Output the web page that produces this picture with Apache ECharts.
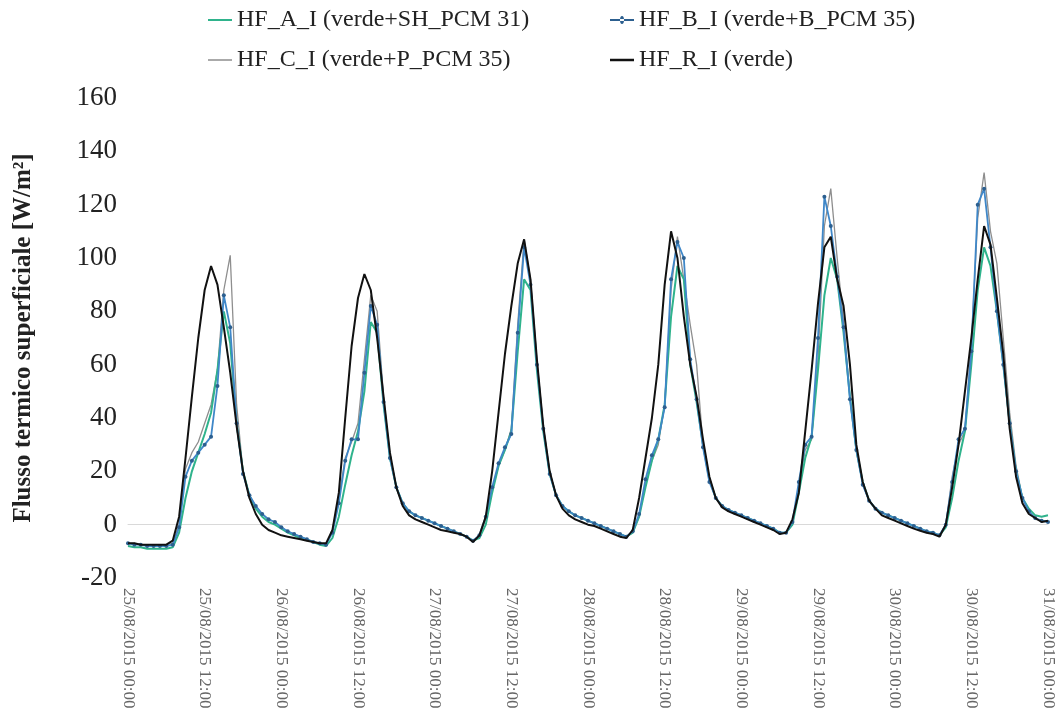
<!DOCTYPE html>
<html>
<head>
<meta charset="utf-8">
<script src="https://cdn.jsdelivr.net/npm/echarts@6/dist/echarts.min.js"></script>
<style>html,body{margin:0;padding:0;background:#fff;}#chart{width:1061px;height:722px;}</style>
</head>
<body>
<div id="chart"></div>
<script>
// hourly samples, 25/08/2015 00:00 -> 31/08/2015 00:00 (145 points)
const seriesNames = ['HF_A_I (verde+SH_PCM 31)', 'HF_B_I (verde+B_PCM 35)', 'HF_C_I (verde+P_PCM 35)', 'HF_R_I (verde)'];
const xTickLabels = ['25/08/2015 00:00','25/08/2015 12:00','26/08/2015 00:00','26/08/2015 12:00','27/08/2015 00:00','27/08/2015 12:00','28/08/2015 00:00','28/08/2015 12:00','29/08/2015 00:00','29/08/2015 12:00','30/08/2015 00:00','30/08/2015 12:00','31/08/2015 00:00'];
const yTicks = [-20, 0, 20, 40, 60, 80, 100, 120, 140, 160];

const hfA = [
  -8,-8.5,-8.5,-9,-9,-9,-9,-8.5,-3,10,20,27,34,42,58,80,68,38,20,11,6,3,1,0,
  -1.5,-3,-4,-5,-5.5,-6.5,-7.5,-8,-5,3,15,26,35,50,76,72,45,25,14,8,5,3.5,2.5,1.5,
  0.5,-0.5,-1.5,-2.5,-3.5,-4.5,-6,-5,0,12,22,28,35,65,92,88,58,35,19,11,7,5,3.5,2.5,
  1.5,0.5,-0.5,-1.5,-2.5,-3.5,-4.5,-3,3,14,24,32,45,78,97,92,60,46,30,17,10,7,5.5,4.5,
  3.5,2.5,1.5,0.5,-0.5,-1.5,-3,-3,0,12,25,33,58,86,100,92,72,48,28,16,9,6,4.5,3.5,
  2.5,1.5,0.5,-0.5,-1.5,-2.5,-3,-4,-1,10,24,35,60,88,104,97,80,60,38,20,10,6,3.5,3,3.5
];
const hfB = [
  -7,-7.5,-7.5,-8,-8,-8,-8,-7.5,-1,18,24,27,30,33,52,86,74,38,19,11,7,4,2,1,
  -1,-2.5,-3.5,-4.5,-5.5,-6.5,-7,-7.5,-3,8,24,32,32,57,82,75,46,25,14,8,5,3.5,2.5,1.5,
  0.5,-0.5,-1.5,-2.5,-3.5,-4.5,-6,-4,3,14,23,29,34,72,104,90,60,36,19,11,7,5,3.5,2.5,
  1.5,0.5,-0.5,-1.5,-2.5,-3.5,-4.5,-2.5,4,17,26,32,44,92,106,100,62,47,29,16,10,7,5.5,4.5,
  3.5,2.5,1.5,0.5,-0.5,-1.5,-3,-3,1,16,30,33,70,123,112,93,74,47,28,15,9,6,4.5,3.5,
  2.5,1.5,0.5,-0.5,-1.5,-2.5,-3,-4,0,16,32,36,65,120,126,104,80,60,38,20,10,5,2.5,1.5,1
];
const hfC = [
  -7,-7,-7.5,-7.5,-7.5,-7.5,-7.5,-7,0,21,27,31,38,45,58,88,101,45,20,11,7,4,2,1,
  -1,-2.5,-3.5,-4.5,-5.5,-6.5,-7,-7.5,-2,10,25,31,38,62,86,80,48,26,14,8,5,3.5,2.5,1.5,
  0.5,-0.5,-1.5,-2.5,-3.5,-4.5,-6,-4,2,13,22,28,36,75,107,92,62,37,20,11,7,5,3.5,2.5,
  1.5,0.5,-0.5,-1.5,-2.5,-3.5,-4.5,-3,3,15,24,30,45,88,108,92,75,60,30,17,10,7,5.5,4.5,
  3.5,2.5,1.5,0.5,-0.5,-1.5,-3,-3,0,14,28,32,62,112,126,100,76,48,28,15,9,6,4.5,3.5,
  2.5,1.5,0.5,-0.5,-1.5,-2.5,-3,-4,0,18,30,35,68,115,132,110,98,70,42,22,10,5,2,1.5,1.5
];
const hfR = [
  -7,-7,-7.5,-7.5,-7.5,-7.5,-7.5,-6,3,25,48,70,88,97,90,74,57,37,20,10,4,0,-2,-3,
  -4,-4.5,-5,-5.5,-6,-6.5,-7,-7,-2,12,40,67,85,94,88,70,48,27,14,7,3.5,2,1,0,
  -1,-2,-2.5,-3,-3.5,-4.5,-6.5,-4,3,20,42,64,82,98,107,92,62,37,20,11,6,3.5,2,1,
  0,-0.5,-1.5,-2.5,-3.5,-4.5,-5,-2,10,25,40,60,90,110,100,78,60,48,32,18,10,6.5,5,4,
  3,2,1,0,-1,-2,-3.5,-3,2,12,35,58,83,104,108,92,82,60,30,16,9,6,3.5,2.5,
  1.5,0.5,-0.5,-1.5,-2.3,-3,-3.5,-4.5,0,14,30,50,70,92,112,105,85,64,36,18,8,4,2.5,1,1.5
];

const colors = ['#2fb38c', '#3f87c8', '#8e8e8e', '#111111'];
const toPairs = arr => arr.map((v, i) => [i, v]);

const font = 'Liberation Serif';
const legendPos = [[203, 3], [605, 3], [203, 43], [605, 43]];
const markerIcon = 'path://M0,9 L48,9 L48,11 L0,11 Z M20,10 a4,4 0 1,0 8,0 a4,4 0 1,0 -8,0 Z';
const legendIcons = ['rect', markerIcon, 'rect', 'rect'];
const legendIconH = [2, 8, 1.5, 2.5];

const chart = echarts.init(document.getElementById('chart'), null, {renderer: 'canvas'});
chart.setOption({
  backgroundColor: '#ffffff',
  animation: false,
  legend: seriesNames.map((n, k) => ({
    data: [{name: n, icon: legendIcons[k]}],
    left: legendPos[k][0],
    top: legendPos[k][1],
    itemWidth: 24,
    itemHeight: legendIconH[k],
    itemGap: 4,
    symbolKeepAspect: false,
    textStyle: {fontFamily: font, fontSize: 24, color: '#222'}
  })),
  grid: {left: 128, right: 13, top: 98, bottom: 144, containLabel: false},
  xAxis: {
    type: 'value', min: 0, max: 144, interval: 12,
    axisLine: {show: true, lineStyle: {color: '#d9d9d9', width: 1}},
    axisTick: {show: false},
    splitLine: {show: false},
    axisLabel: {
      rotate: -90, margin: 10, fontFamily: font, fontSize: 17, color: '#666',
      formatter: v => xTickLabels[Math.round(v / 12)] || ''
    }
  },
  yAxis: {
    type: 'value', min: yTicks[0], max: yTicks[yTicks.length - 1], interval: 20,
    name: 'Flusso termico superficiale [W/m²]',
    nameLocation: 'middle', nameGap: 92,
    nameTextStyle: {fontFamily: font, fontSize: 25, fontWeight: 'bold', color: '#222'},
    axisLine: {show: false}, axisTick: {show: false},
    splitLine: {show: false},
    axisLabel: {fontFamily: font, fontSize: 27, color: '#222', margin: 11}
  },
  series: [
    {name: seriesNames[0], type: 'line', data: toPairs(hfA), symbol: 'none', z: 3,
     lineStyle: {color: colors[0], width: 2}, itemStyle: {color: colors[0]}},
    {name: seriesNames[1], type: 'line', data: toPairs(hfB), symbol: 'circle', symbolSize: 4, showSymbol: true, z: 4,
     lineStyle: {color: colors[1], width: 1.8}, itemStyle: {color: '#2c5f8f', borderWidth: 0}},
    {name: seriesNames[2], type: 'line', data: toPairs(hfC), symbol: 'none', z: 2,
     lineStyle: {color: colors[2], width: 1.3}, itemStyle: {color: colors[2]}},
    {name: seriesNames[3], type: 'line', data: toPairs(hfR), symbol: 'none', z: 5,
     lineStyle: {color: colors[3], width: 2}, itemStyle: {color: colors[3]}}
  ]
});
</script>
</body>
</html>
